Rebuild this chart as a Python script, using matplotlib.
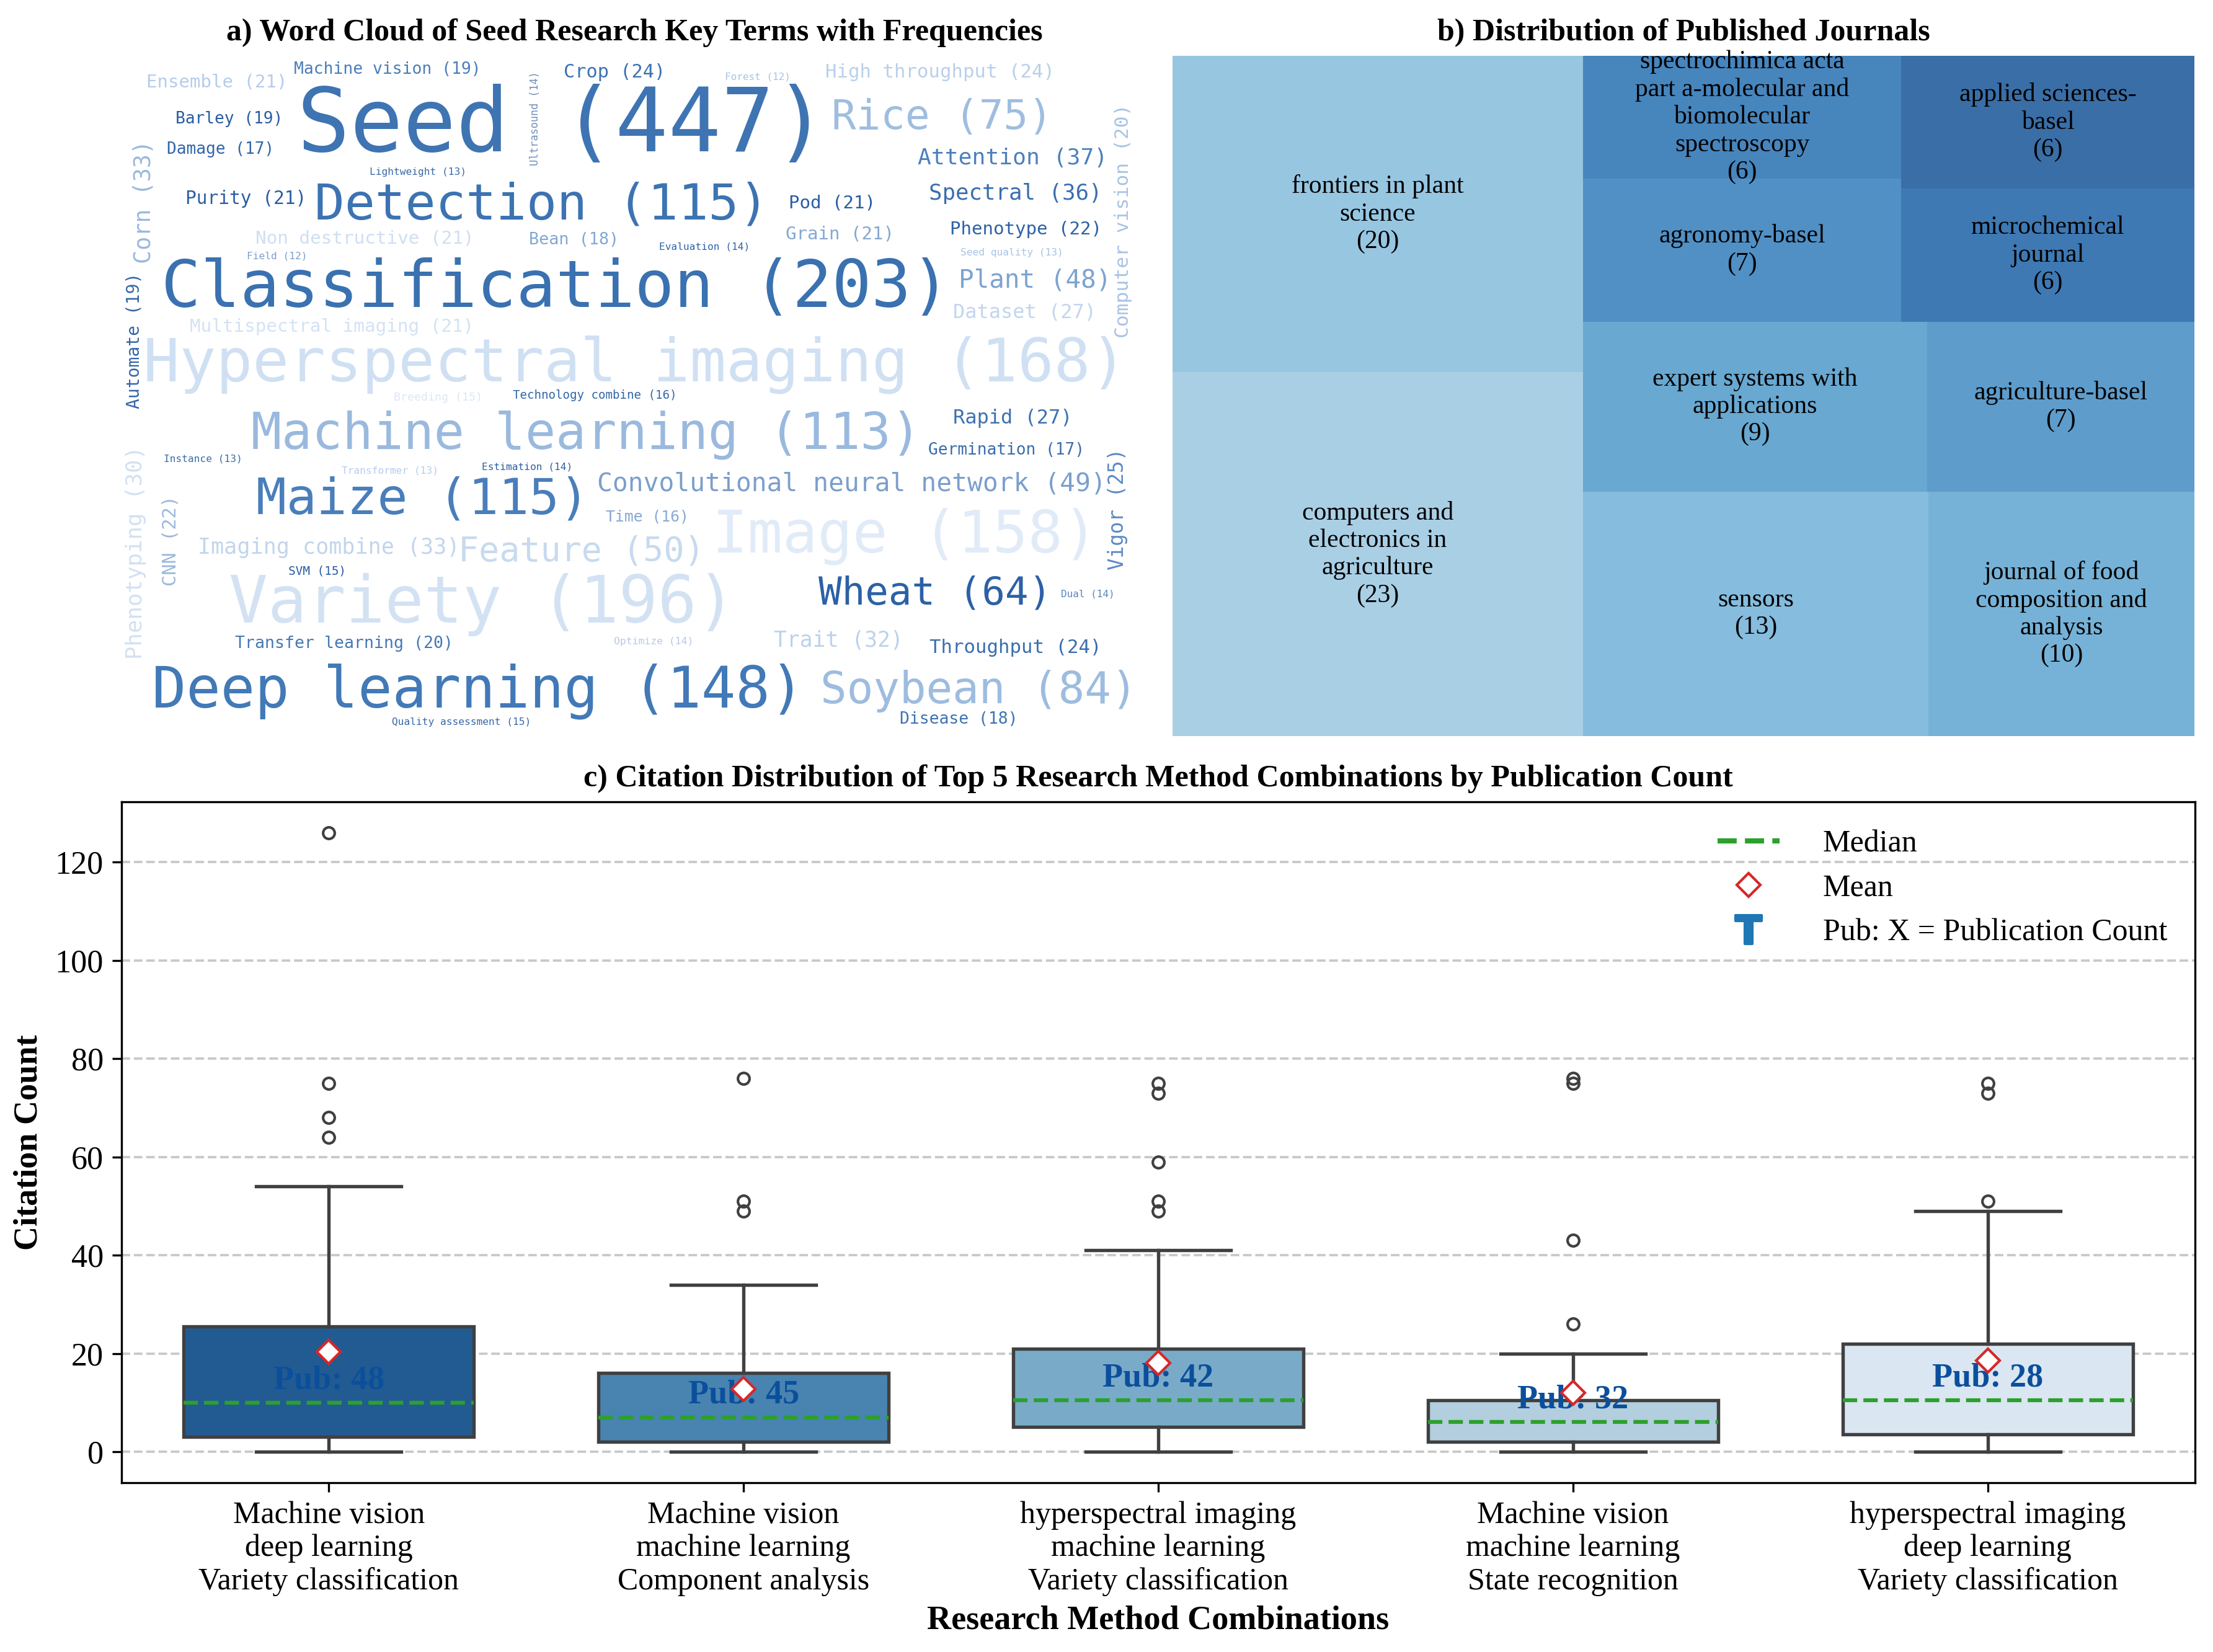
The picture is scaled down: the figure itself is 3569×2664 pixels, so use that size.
import textwrap
import numpy as np
import matplotlib
matplotlib.use("Agg")
import matplotlib.pyplot as plt
import seaborn as sns
from matplotlib.lines import Line2D
from matplotlib.patches import Rectangle

plt.rcParams['font.family'] = ['Liberation Serif', 'DejaVu Serif']
plt.rcParams['mathtext.fontset'] = 'dejavusans'

# ---- a) word cloud terms ----
terms = ["Seed", "Classification", "Variety", "Hyperspectral imaging", "Image",
         "Deep learning", "Detection", "Maize", "Machine learning", "Soybean",
         "Rice", "Wheat", "Feature", "Convolutional neural network", "Plant",
         "Attention", "Spectral", "Corn", "Imaging combine", "Trait",
         "Phenotyping", "Dataset", "Rapid", "Vigor", "Crop",
         "High throughput", "Throughput", "Phenotype", "CNN", "Ensemble",
         "Purity", "Pod", "Grain", "Non destructive", "Multispectral imaging",
         "Computer vision", "Transfer learning", "Machine vision", "Barley", "Automate",
         "Bean", "Disease", "Damage", "Germination", "Technology combine",
         "Time", "Breeding", "SVM", "Quality assessment", "Ultrasound",
         "Evaluation", "Estimation", "Dual", "Optimize", "Lightweight",
         "Seed quality", "Instance", "Transformer", "Forest", "Field"]
term_freq = [447, 203, 196, 168, 158,
             148, 115, 115, 113, 84,
             75, 64, 50, 49, 48,
             37, 36, 33, 33, 32,
             30, 27, 27, 25, 24,
             24, 24, 22, 22, 21,
             21, 21, 21, 21, 21,
             20, 20, 19, 19, 19,
             18, 18, 17, 17, 16,
             16, 15, 15, 15, 14,
             14, 14, 14, 14, 13,
             13, 13, 13, 12, 12]

# placement of each word: x, y, fontsize, rotation, colour
cloud_layout = [
    (398.5, 90, 34.1, 0, '#3f74b3'), (393.7, 204.6, 25.4, 0, '#3a71b0'),
    (341.5, 428.4, 25.1, 0, '#d3e2f3'), (450, 258, 23.4, 0, '#d0e0f3'),
    (641.5, 379.6, 22.5, 0, '#e1ebf8'), (338.6, 489.7, 22.1, 0, '#4279b7'),
    (383.8, 145.7, 19.5, 0, '#3c73b2'), (299.8, 354.4, 19.5, 0, '#4a7ebb'),
    (415.3, 308, 19.6, 0, '#9ab9de'), (693.9, 489.7, 17.0, 0, '#9dbcdf'),
    (667.5, 83.5, 15.8, 0, '#9ebde0'), (662.5, 420.8, 15.0, 0, '#2c61a6'),
    (412, 390.6, 13.2, 0, '#c7daef'), (603.5, 342.7, 9.9, 0, '#7c9fcb'),
    (733.5, 198.7, 9.84, 0, '#7ea3cf'), (717.8, 112, 8.7, 0, '#4c80bc'),
    (719.6, 137, 8.6, 0, '#3a6fae'), (102, 142.8, 8.84, 90, '#9ab9dd'),
    (233.2, 388, 8.4, 0, '#c2d5ec'), (594.2, 453.6, 8.3, 0, '#bdd2eb'),
    (96.4, 391.5, 8.57, 90, '#d2e1f3'), (726, 221.4, 7.67, 0, '#c2d6ee'),
    (717.8, 296.4, 7.69, 0, '#3d72b2'), (791.8, 360.5, 7.82, 90, '#5b8ac1'),
    (435.5, 51, 7.26, 0, '#3d72b0'), (666, 51, 7.36, 0, '#b9d0ea'),
    (719.5, 458.7, 7.36, 0, '#3a6dad'), (727, 162.6, 7.0, 0, '#2d61a5'),
    (121, 383, 7.3, 90, '#9db9dc'), (153.8, 58.3, 6.97, 0, '#b4cdea'),
    (174.3, 140.7, 7.08, 0, '#2c5ea3'), (589.5, 144, 7.0, 0, '#2a5ea4'),
    (595, 166, 7.0, 0, '#86a8d2'), (258.6, 169, 7.07, 0, '#cfdff2'),
    (235, 231.5, 7.04, 0, '#d4e2f3'), (796, 156.5, 7.5, 90, '#a8c3e4'),
    (243.8, 456, 6.36, 0, '#4678b4'), (274.5, 49, 6.34, 0, '#4a7db8'),
    (162.2, 84.4, 6.31, 0, '#2a5ca0'), (95, 241.2, 6.72, 90, '#3466a9'),
    (406.5, 169.9, 6.44, 0, '#84a7d2'), (679.2, 509.4, 6.33, 0, '#3f73b2'),
    (156.1, 106, 6.27, 0, '#3366a8'), (713.2, 319, 6.3, 0, '#3b6dac'),
    (421.3, 280, 4.58, 0, '#3467a8'), (458.9, 366, 5.95, 0, '#88a9d3'),
    (310.3, 281.5, 4.4, 0, '#dbe7f5'), (224.7, 404.8, 4.66, 0, '#2a5ca0'),
    (327, 511.6, 3.92, 0, '#3868a8'), (379, 83.8, 4.07, 90, '#6f8fb8'),
    (499.1, 174.6, 3.88, 0, '#2f63a6'), (373.6, 330.8, 3.9, 0, '#2d5fa3'),
    (770.7, 420.8, 3.83, 0, '#5a85bd'), (463.2, 454.3, 3.93, 0, '#b5cbe7'),
    (296, 122, 3.9, 0, '#3a6aa8'), (717.2, 179, 3.92, 0, '#a8c3e4'),
    (143.7, 325, 3.86, 0, '#3b6aa8'), (276.3, 333.4, 3.88, 0, '#b7cde9'),
    (537, 54.6, 3.85, 0, '#a9c3e3'), (196.2, 181.5, 3.91, 0, '#7e9fca'),
]

# ---- b) journals ----
journals = ["computers and electronics in agriculture", "frontiers in plant science",
            "sensors", "journal of food composition and analysis",
            "expert systems with applications", "agriculture-basel", "agronomy-basel",
            "spectrochimica acta part a-molecular and biomolecular spectroscopy",
            "microchemical journal", "applied sciences-basel"]
journal_counts = [23, 20, 13, 10, 9, 7, 7, 6, 6, 6]

# ---- c) citation boxplots ----
combos = ["Machine vision\ndeep learning\nVariety classification",
          "Machine vision\nmachine learning\nComponent analysis",
          "hyperspectral imaging\nmachine learning\nVariety classification",
          "Machine vision\nmachine learning\nState recognition",
          "hyperspectral imaging\ndeep learning\nVariety classification"]
pub_counts = [48, 45, 42, 32, 28]
cit_q1 = [3, 2, 5, 2, 3.5]
cit_median = [10, 7, 10.5, 6, 10.5]
cit_q3 = [25.5, 16, 21, 10.5, 22]
cit_whislo = [0, 0, 0, 0, 0]
cit_whishi = [54, 34, 41, 20, 49]
cit_mean = [20.3, 12.7, 18.1, 12.0, 18.6]
cit_fliers = [[64, 68, 75, 126], [49, 51, 76], [49, 51, 59, 73, 75],
              [26, 43, 75, 76], [51, 73, 75]]


def layout_rects(sizes, x, y, dx, dy):
    rects = []
    if dx >= dy:
        w = sum(sizes) / dy
        for s in sizes:
            rects.append((x, y, w, s / w))
            y += s / w
    else:
        h = sum(sizes) / dx
        for s in sizes:
            rects.append((x, y, s / h, h))
            x += s / h
    return rects


def worst_ratio(sizes, x, y, dx, dy):
    return max(max(w / h, h / w) for _, _, w, h in layout_rects(sizes, x, y, dx, dy))


def squarify(sizes, x, y, dx, dy):
    if len(sizes) == 0:
        return []
    if len(sizes) == 1:
        return layout_rects(sizes, x, y, dx, dy)
    i = 1
    while i < len(sizes) and worst_ratio(sizes[:i], x, y, dx, dy) >= worst_ratio(sizes[:i + 1], x, y, dx, dy):
        i += 1
    cur, rest = sizes[:i], sizes[i:]
    if dx >= dy:
        w = sum(cur) / dy
        nxt = (x + w, y, dx - w, dy)
    else:
        h = sum(cur) / dx
        nxt = (x, y + h, dx, dy - h)
    return layout_rects(cur, x, y, dx, dy) + squarify(rest, *nxt)


fig = plt.figure(figsize=(3569 / 300, 2664 / 300), dpi=300)

# a) word cloud
ax1 = fig.add_axes([0.0549, 0.5544, 0.4634, 0.4118])
ax1.set_xlim(86.1, 812.8)
ax1.set_ylim(521.5, 39.5)
ax1.axis('off')
for term, freq, (x, y, fs, rot, col) in zip(terms, term_freq, cloud_layout):
    ax1.text(x, y, f"{term} ({freq})", fontsize=fs, rotation=rot, color=col,
             family='DejaVu Sans Mono', ha='center', va='center')
ax1.set_title("a) Word Cloud of Seed Research Key Terms with Frequencies",
              fontsize=12, fontweight='bold')

# b) treemap
ax2 = fig.add_axes([0.5298, 0.5544, 0.4618, 0.4118])
total = sum(journal_counts)
norm = [c * 100 * 100 / total for c in journal_counts]
rects = squarify(norm, 0, 0, 100, 100)
colors = plt.cm.Blues(np.linspace(0.4, 0.9, len(journal_counts)))
for (x, y, w, h), name, cnt, col in zip(rects, journals, journal_counts, colors):
    ax2.add_patch(Rectangle((x, y), w, h, facecolor=col, alpha=0.8, linewidth=0))
    ax2.text(x + w / 2, y + h / 2, textwrap.fill(name, 20) + f"\n({cnt})",
             ha='center', va='center', fontsize=10)
ax2.set_xlim(0, 100)
ax2.set_ylim(0, 100)
ax2.axis('off')
ax2.set_title("b) Distribution of Published Journals", fontsize=12, fontweight='bold')

# c) boxplot
ax3 = fig.add_axes([0.0549, 0.1025, 0.937, 0.4122])
stats = []
for i in range(len(combos)):
    stats.append(dict(q1=cit_q1[i], med=cit_median[i], q3=cit_q3[i],
                      whislo=cit_whislo[i], whishi=cit_whishi[i],
                      mean=cit_mean[i], fliers=cit_fliers[i], label=combos[i]))
box_cols = [sns.desaturate(c, 0.75) for c in sns.color_palette('Blues_r', 5)]
edge = '#404040'
bp = ax3.bxp(stats, positions=range(5), widths=0.7, patch_artist=True, showmeans=True,
             boxprops=dict(edgecolor=edge, linewidth=1.3),
             whiskerprops=dict(color=edge, linewidth=1.3),
             capprops=dict(color=edge, linewidth=1.3),
             medianprops=dict(color='#2ca02c', linestyle='--', linewidth=1.5),
             meanprops=dict(marker='D', markerfacecolor='white', markeredgecolor='#d62728',
                            markersize=6.5, zorder=5),
             flierprops=dict(marker='o', markerfacecolor='none', markeredgecolor=edge,
                             markersize=4.5, markeredgewidth=1.0))
for patch, col in zip(bp['boxes'], box_cols):
    patch.set_facecolor(col)

for i, n in enumerate(pub_counts):
    ax3.text(i, cit_median[i] + 4.5, f"Pub: {n}", ha='center', va='center',
             fontsize=13, fontweight='bold', color='#0b4f9c', zorder=4)

ax3.set_xlim(-0.5, 4.5)
ax3.set_xticks(range(5))
ax3.set_xticklabels(combos, fontsize=12)
ax3.tick_params(axis='y', labelsize=12.5)
ax3.yaxis.grid(True, linestyle='--', color='#c8c8c8', linewidth=0.9)
ax3.set_axisbelow(True)
ax3.set_ylabel("Citation Count", fontsize=13, fontweight='bold')
ax3.set_xlabel("Research Method Combinations", fontsize=13, fontweight='bold', labelpad=3.5)
ax3.set_title("c) Citation Distribution of Top 5 Research Method Combinations by Publication Count",
              fontsize=12, fontweight='bold')

handles = [
    Line2D([0], [0], color='#2ca02c', linestyle='--', linewidth=2, label='Median'),
    Line2D([0], [0], marker='D', linestyle='None', markerfacecolor='white',
           markeredgecolor='#d62728', markersize=6.5, label='Mean'),
    Line2D([0], [0], marker=r'$\mathbf{T}$', linestyle='None', color='#1f77b4',
           markersize=11, label='Pub: X = Publication Count'),
]
ax3.legend(handles=handles, loc='upper right', frameon=False, fontsize=12,
           handletextpad=1.4)

fig.savefig("out.png", dpi=300)
